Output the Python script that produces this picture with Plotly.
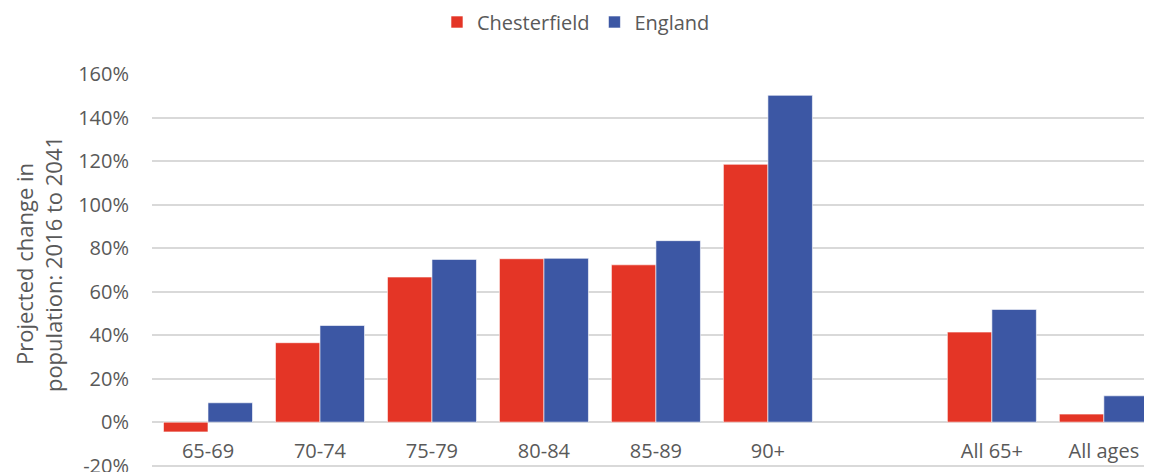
import plotly.graph_objects as go

categories = ["65-69", "70-74", "75-79", "80-84", "85-89", "90+", " ", "All 65+", "All ages"]
chesterfield = [-4.5, 36.5, 66.7, 75.1, 72.3, 118.5, None, 41.4, 3.7]
england = [8.9, 44.4, 74.8, 75.3, 83.4, 150.2, None, 51.8, 12.1]
y_ticks = [-20, 0, 20, 40, 60, 80, 100, 120, 140, 160]
y_min, y_max = -22, 160

font_family = "Open Sans, Liberation Sans, sans-serif"
text_color = "#595959"

fig = go.Figure()

# bars
fig.add_trace(go.Bar(
    name="Chesterfield", x=categories, y=chesterfield,
    marker=dict(color="#E43526", line=dict(color="rgba(255,255,255,0.6)", width=1))
))
fig.add_trace(go.Bar(
    name="England", x=categories, y=england,
    marker=dict(color="#3C57A4", line=dict(color="rgba(255,255,255,0.6)", width=1))
))

# page body has an 8px margin, so the figure is sized/offset to compensate;
# the bottom runs past the window so the -20% label is cut like the original
fig.update_layout(
    width=1144, height=482,
    margin=dict(l=144, r=0, t=66, b=20, autoexpand=False),
    plot_bgcolor="white", paper_bgcolor="white",
    barmode="group", bargap=0.205, bargroupgap=0,
    font=dict(family=font_family, color=text_color, size=20),
    legend=dict(orientation="h", xref="container", yref="container",
                x=0.4965, xanchor="center", y=1 - 14 / 482, yanchor="middle",
                font=dict(size=20), itemwidth=30, traceorder="normal"),
    showlegend=True,
)

# category axis sits on the 0% line, like Excel
fig.update_xaxes(
    categoryorder="array", categoryarray=categories,
    range=[-0.5, 8.43], showgrid=False, showline=False,
    anchor="free", position=(0 - y_min) / (y_max - y_min),
    ticks="", ticklabelstandoff=15,
    tickfont=dict(size=20, color=text_color),
)

fig.update_yaxes(
    range=[y_min, y_max], tickvals=y_ticks,
    ticktext=[f"{v}%" for v in y_ticks],
    showgrid=True, gridcolor="#D9D9D9", gridwidth=1.5,
    zeroline=True, zerolinecolor="#D9D9D9", zerolinewidth=1.5,
    showline=False, ticks="", ticklabelstandoff=22,
    tickfont=dict(size=20, color=text_color),
)

# y axis title as two lines
fig.add_annotation(
    text="Projected change in<br>population: 2016 to 2041",
    xref="paper", yref="paper", x=-0.114, y=0.52,
    textangle=-90, showarrow=False, xanchor="center", yanchor="middle",
    font=dict(size=22, color=text_color),
)

fig.write_html("out.html")
